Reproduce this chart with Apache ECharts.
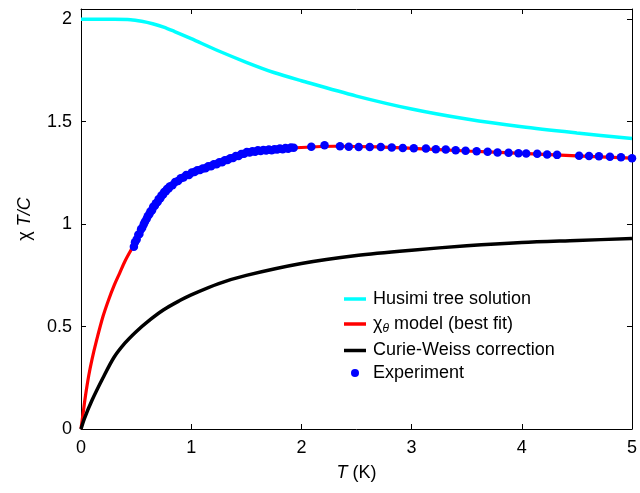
<!DOCTYPE html>
<html>
<head>
<meta charset="utf-8">
<script src="https://cdn.jsdelivr.net/npm/echarts@6/dist/echarts.min.js"></script>
<style>
  html, body { margin: 0; padding: 0; background: #fff; }
  #chart { width: 640px; height: 493px; }
</style>
</head>
<body>
<div id="chart"></div>
<script>
// values
var husimiT = [0, 0.3, 0.45, 0.55, 0.65, 0.75, 0.85, 1.0, 1.25, 1.5, 1.75, 2.0, 2.5, 3.0, 3.5, 4.0, 4.5, 5.0];
var husimiV = [2.0, 2.0, 1.998, 1.99, 1.978, 1.962, 1.94, 1.905, 1.845, 1.79, 1.74, 1.70, 1.625, 1.562, 1.513, 1.475, 1.445, 1.418];

var modelT = [0, 0.02, 0.04, 0.07, 0.1, 0.14, 0.2, 0.25, 0.3, 0.35, 0.4, 0.46, 0.55, 0.65, 0.8, 0.95, 1.1, 1.3, 1.5, 1.75, 2.0, 2.3, 2.7, 3.0, 3.5, 4.0, 4.5, 5.0];
var modelV = [0, 0.08, 0.16, 0.26, 0.34, 0.43, 0.55, 0.63, 0.70, 0.76, 0.82, 0.88, 0.975, 1.08, 1.182, 1.235, 1.27, 1.312, 1.35, 1.364, 1.374, 1.38, 1.377, 1.37, 1.357, 1.345, 1.333, 1.322];

var cwT = [0, 0.03, 0.1, 0.2, 0.3, 0.4, 0.5, 0.6, 0.75, 0.9, 1.0, 1.25, 1.5, 2.0, 2.5, 3.0, 3.5, 4.0, 4.5, 5.0];
var cwV = [0, 0.05, 0.14, 0.25, 0.35, 0.42, 0.475, 0.522, 0.582, 0.628, 0.655, 0.71, 0.75, 0.808, 0.847, 0.873, 0.894, 0.91, 0.92, 0.93];

var expT = [0.48, 0.49, 0.505, 0.52, 0.53, 0.545, 0.555, 0.57, 0.58, 0.595, 0.605, 0.62, 0.63, 0.645, 0.655, 0.67, 0.68, 0.695,
  0.705, 0.72, 0.73, 0.745, 0.755, 0.77, 0.78, 0.795, 0.805, 0.83, 0.855, 0.88, 0.905, 0.93, 0.955, 0.98, 1.005, 1.03,
  1.055, 1.08, 1.105, 1.13, 1.155, 1.18, 1.205, 1.23, 1.255, 1.28, 1.305, 1.33, 1.355, 1.38, 1.405, 1.43, 1.455, 1.48,
  1.505, 1.53, 1.555, 1.58, 1.605, 1.63, 1.655, 1.68, 1.705, 1.73, 1.755, 1.78, 1.805, 1.83, 1.855, 1.88, 1.905, 1.93,
  2.09, 2.21, 2.35, 2.43, 2.52, 2.62, 2.72, 2.82, 2.92, 3.02, 3.13, 3.22, 3.31, 3.40, 3.49, 3.59, 3.69, 3.78, 3.88,
  3.97, 4.04, 4.14, 4.23, 4.32, 4.52, 4.61, 4.70, 4.80, 4.90, 5.0];
var expV = [0.89, 0.912, 0.925, 0.948, 0.952, 0.975, 0.982, 1.0, 1.012, 1.025, 1.038, 1.048, 1.062, 1.068, 1.085, 1.09, 1.102, 1.108,
  1.122, 1.126, 1.14, 1.144, 1.157, 1.16, 1.172, 1.174, 1.184, 1.19, 1.206, 1.21, 1.224, 1.227, 1.24, 1.24, 1.252, 1.254,
  1.263, 1.264, 1.272, 1.273, 1.282, 1.282, 1.292, 1.292, 1.302, 1.302, 1.312, 1.313, 1.322, 1.323, 1.332, 1.333, 1.342, 1.344,
  1.352, 1.35, 1.356, 1.353, 1.36, 1.357, 1.362, 1.359, 1.364, 1.361, 1.366, 1.364, 1.369, 1.366, 1.371, 1.368, 1.374, 1.373,
  1.378, 1.385, 1.38, 1.378, 1.377, 1.376, 1.376, 1.374, 1.372, 1.37, 1.369, 1.366, 1.364, 1.36, 1.358, 1.356, 1.353, 1.35, 1.348,
  1.346, 1.345, 1.343, 1.34, 1.338, 1.334, 1.333, 1.331, 1.329, 1.326, 1.322];

var xTicks = ['0', '1', '2', '3', '4', '5'];
var yTicks = ['0', '0.5', '1', '1.5', '2'];

function pairs(xs, ys) {
  return xs.map(function (x, i) { return [x, ys[i]]; });
}

var font = 'Liberation Sans, Arial, Helvetica, sans-serif';
var chart = echarts.init(document.getElementById('chart'));

var axisCommon = {
  axisLine: { show: true, onZero: false, lineStyle: { color: '#000', width: 1 } },
  axisTick: { show: true, inside: true, length: 5, lineStyle: { color: '#000', width: 1 } },
  splitLine: { show: false }
};

var legendText = {
  fontFamily: font, fontSize: 18, color: '#000', padding: [0, 0, 0, 2],
  rich: {
    g: { fontFamily: font, fontSize: 18, color: '#000' },
    sub: { fontFamily: font, fontSize: 12, fontStyle: 'italic', color: '#000', padding: [9, 0, 0, 0] },
    t: { fontFamily: font, fontSize: 18, color: '#000' }
  }
};

chart.setOption({
  animation: false,
  backgroundColor: '#fff',
  grid: { left: 81, right: 6, top: 9, bottom: 64 },
  legend: [
    {
      orient: 'vertical', left: 339, top: 285,
      itemWidth: 22, itemHeight: 3.5, itemGap: 7,
      textStyle: legendText,
      formatter: function (name) {
        if (name === 'model') return '{g|χ}{sub|θ}{t| model (best fit)}';
        return name;
      },
      data: [
        { name: 'Husimi tree solution', icon: 'rect' },
        { name: 'model', icon: 'rect' },
        { name: 'Curie-Weiss correction', icon: 'rect' }
      ]
    },
    {
      orient: 'vertical', left: 346, top: 359,
      itemWidth: 22, itemHeight: 8,
      textStyle: legendText,
      data: [{ name: 'Experiment', icon: 'circle' }]
    }
  ],
  xAxis: [
    Object.assign({
      type: 'value', min: 0, max: 5, interval: 1, position: 'bottom',
      name: '{i|T} (K)', nameLocation: 'middle', nameGap: 35,
      nameTextStyle: { fontFamily: font, fontSize: 18, color: '#000',
        rich: { i: { fontFamily: font, fontSize: 18, fontStyle: 'italic', color: '#000' } } },
      axisLabel: { fontFamily: font, fontSize: 18, color: '#000', margin: 10,
        formatter: function (v) { var s = String(v); return xTicks.indexOf(s) >= 0 ? s : ''; } }
    }, axisCommon),
    Object.assign({
      type: 'value', min: 0, max: 5, interval: 1, position: 'top',
      axisLabel: { show: false }
    }, axisCommon)
  ],
  yAxis: [
    Object.assign({
      type: 'value', min: 0, max: 2.05, interval: 0.5, position: 'left',
      name: 'χ {i|T/C}', nameLocation: 'middle', nameGap: 47, nameRotate: 90,
      nameTextStyle: { fontFamily: font, fontSize: 18, color: '#000',
        rich: { i: { fontFamily: font, fontSize: 18, fontStyle: 'italic', color: '#000' } } },
      axisLabel: { fontFamily: font, fontSize: 18, color: '#000', margin: 9,
        formatter: function (v) { var s = String(v); return yTicks.indexOf(s) >= 0 ? s : ''; } }
    }, axisCommon),
    Object.assign({
      type: 'value', min: 0, max: 2.05, interval: 0.5, position: 'right',
      axisLabel: { show: false }
    }, axisCommon)
  ],
  series: [
    {
      name: 'Husimi tree solution', type: 'line', data: pairs(husimiT, husimiV),
      symbol: 'none', smooth: 0.3,
      lineStyle: { color: '#00ffff', width: 3.5 }, itemStyle: { color: '#00ffff' }, z: 2
    },
    {
      name: 'model', type: 'line', data: pairs(modelT, modelV),
      symbol: 'none', smooth: 0.3,
      lineStyle: { color: '#ff0000', width: 3.2 }, itemStyle: { color: '#ff0000' }, z: 2
    },
    {
      name: 'Curie-Weiss correction', type: 'line', data: pairs(cwT, cwV),
      symbol: 'none', smooth: 0.3,
      lineStyle: { color: '#000000', width: 3.5 }, itemStyle: { color: '#000000' }, z: 2
    },
    {
      name: 'Experiment', type: 'scatter', data: pairs(expT, expV),
      symbol: 'circle', symbolSize: 8.5,
      itemStyle: { color: '#0000ff', opacity: 1 }, z: 3
    }
  ]
});
</script>
</body>
</html>
